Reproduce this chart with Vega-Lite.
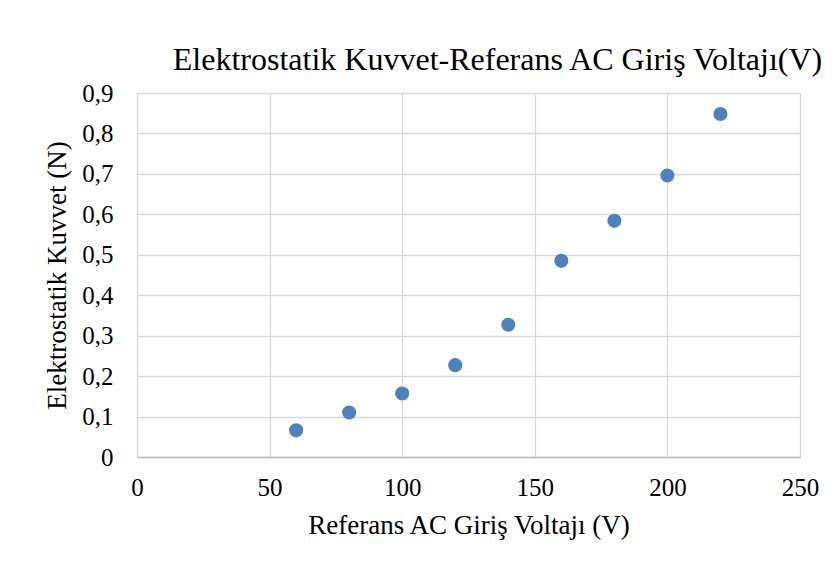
{
  "$schema": "https://vega.github.io/schema/vega-lite/v6.json",
  "width": 663,
  "height": 364,
  "autosize": {"type": "none"},
  "padding": {"left": 137, "top": 93, "right": 38, "bottom": 115},
  "background": "white",
  "config": {"view": {"stroke": null}},
  "title": {
    "text": "Elektrostatik Kuvvet-Referans AC Giriş Voltajı(V)",
    "font": "Liberation Serif",
    "fontSize": 32,
    "fontWeight": "normal",
    "color": "#000000",
    "anchor": "middle",
    "dx": 29,
    "offset": 4
  },
  "data": {
    "values": [
      {"voltage": 60, "force": 0.066},
      {"voltage": 80, "force": 0.110},
      {"voltage": 100, "force": 0.157},
      {"voltage": 120, "force": 0.227},
      {"voltage": 140, "force": 0.327},
      {"voltage": 160, "force": 0.485},
      {"voltage": 180, "force": 0.584},
      {"voltage": 200, "force": 0.696},
      {"voltage": 220, "force": 0.848}
    ]
  },
  "mark": {"type": "point", "filled": true, "size": 200, "color": "#4f81bd", "opacity": 1},
  "encoding": {
    "x": {
      "field": "voltage",
      "type": "quantitative",
      "scale": {"domain": [0, 250], "nice": false, "zero": true},
      "axis": {
        "values": [0, 50, 100, 150, 200, 250],
        "labelFlush": false,
        "grid": true,
        "gridColor": "#d9d9d9",
        "gridWidth": 1.3,
        "domainColor": "#bfbfbf",
        "domainWidth": 1.3,
        "ticks": false,
        "labelFont": "Liberation Serif",
        "labelFontSize": 25,
        "labelColor": "#000000",
        "labelPadding": 18,
        "title": "Referans AC Giriş Voltajı (V)",
        "titleFont": "Liberation Serif",
        "titleFontSize": 27,
        "titleFontWeight": "normal",
        "titleColor": "#000000",
        "titlePadding": 12
      }
    },
    "y": {
      "field": "force",
      "type": "quantitative",
      "scale": {"domain": [0, 0.9], "nice": false},
      "axis": {
        "values": [0, 0.1, 0.2, 0.3, 0.4, 0.5, 0.6, 0.7, 0.8, 0.9],
        "labelFlush": false,
        "labelExpr": "datum.value == 0 ? '0' : replace(format(datum.value, '.1f'), '.', ',')",
        "grid": true,
        "gridColor": "#d9d9d9",
        "gridWidth": 1.3,
        "domain": false,
        "ticks": false,
        "labelFont": "Liberation Serif",
        "labelFontSize": 25,
        "labelColor": "#000000",
        "labelPadding": 24,
        "title": "Elektrostatik Kuvvet (N)",
        "titleFont": "Liberation Serif",
        "titleFontSize": 27,
        "titleFontWeight": "normal",
        "titleColor": "#000000",
        "titlePadding": 10
      }
    }
  }
}
